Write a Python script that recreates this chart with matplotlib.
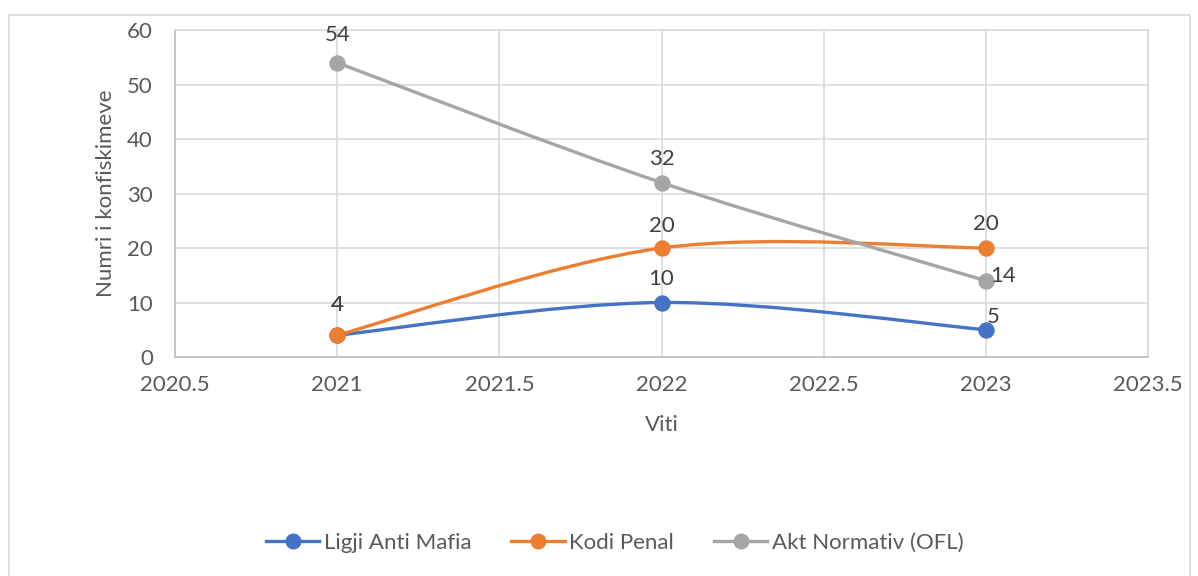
"""Konfiskimet sipas bazës ligjore, 2021–2023 (Excel-style smoothed scatter)."""

import matplotlib.pyplot as plt
from matplotlib.lines import Line2D
from matplotlib.patches import PathPatch, Rectangle
from matplotlib.path import Path

YEARS = [2021, 2022, 2023]
LIGJI_ANTI_MAFIA = [4, 10, 5]
KODI_PENAL = [4, 20, 20]
AKT_NORMATIV = [54, 32, 14]

SERIES_NAMES = ["Ligji Anti Mafia", "Kodi Penal", "Akt Normativ (OFL)"]
SERIES_VALUES = [LIGJI_ANTI_MAFIA, KODI_PENAL, AKT_NORMATIV]
SERIES_COLORS = ["#4472C4", "#ED7D31", "#A5A5A5"]

X_TICKS = [2020.5, 2021, 2021.5, 2022, 2022.5, 2023, 2023.5]
Y_TICKS = [0, 10, 20, 30, 40, 50, 60]

TEXT_COLOR = "#595959"
LABEL_COLOR = "#404040"
GRID_COLOR = "#D9D9D9"
FONT_SIZE = 16

# label offsets in points (dx, dy, ha); default is above the marker
DEFAULT_OFFSET = (0, 17, "center")
LABEL_OFFSETS = {
    (0, 0): (0, 22, "center"),
    (1, 0): (0, 22, "center"),
    (2, 0): (0, 20, "center"),
    (1, 1): (0, 16, "center"),
    (2, 2): (3, 3.5, "left"),
    (0, 2): (5, 9.5, "center"),
}


def smooth_path(xs, ys):
    """Catmull-Rom Bezier path through the points, like Excel smoothing."""
    pts = list(zip(xs, ys))
    verts = [pts[0]]
    codes = [Path.MOVETO]
    for i in range(len(pts) - 1):
        p0 = pts[max(i - 1, 0)]
        p1 = pts[i]
        p2 = pts[i + 1]
        p3 = pts[min(i + 2, len(pts) - 1)]
        c1 = (p1[0] + (p2[0] - p0[0]) / 6, p1[1] + (p2[1] - p0[1]) / 6)
        c2 = (p2[0] - (p3[0] - p1[0]) / 6, p2[1] - (p3[1] - p1[1]) / 6)
        verts += [c1, c2, p2]
        codes += [Path.CURVE4] * 3
    return Path(verts, codes)


def main():
    plt.rcParams["font.family"] = ["Lato", "DejaVu Sans"]
    plt.rcParams["font.size"] = FONT_SIZE

    fig = plt.figure(figsize=(11.98, 5.76), dpi=100)
    ax = fig.add_axes([0.1461, 0.3802, 0.8122, 0.5677])

    # outer chart border
    fig.patches.append(Rectangle((9 / 1198, -0.01), 1181 / 1198, 0.984,
                                 transform=fig.transFigure, fill=False,
                                 edgecolor=GRID_COLOR, linewidth=1.2))

    for s, (name, values, color) in enumerate(zip(SERIES_NAMES, SERIES_VALUES, SERIES_COLORS)):
        ax.add_patch(PathPatch(smooth_path(YEARS, values), facecolor="none",
                               edgecolor=color, linewidth=2.4, zorder=3,
                               capstyle="round"))
        ax.plot(YEARS, values, linestyle="none", marker="o", markersize=10.8,
                color=color, zorder=4)
        for i, (x, y) in enumerate(zip(YEARS, values)):
            dx, dy, ha = LABEL_OFFSETS.get((s, i), DEFAULT_OFFSET)
            ax.annotate(str(y), (x, y), xytext=(dx, dy), textcoords="offset points",
                        ha=ha, va="center", color=LABEL_COLOR, fontsize=FONT_SIZE,
                        zorder=5)

    ax.set_xlim(X_TICKS[0], X_TICKS[-1])
    ax.set_ylim(Y_TICKS[0], Y_TICKS[-1])
    ax.set_xticks(X_TICKS)
    ax.set_xticklabels([f"{t:g}" for t in X_TICKS])
    ax.set_yticks(Y_TICKS)
    ax.grid(True, color=GRID_COLOR, linewidth=1.2, zorder=0)
    ax.set_axisbelow(True)
    ax.tick_params(length=0, colors=TEXT_COLOR, labelsize=FONT_SIZE)
    ax.tick_params(axis="x", pad=13)
    ax.tick_params(axis="y", pad=16)
    for spine in ax.spines.values():
        spine.set_color(GRID_COLOR)
        spine.set_linewidth(1.2)
    ax.spines["left"].set_color("#BFBFBF")
    ax.spines["bottom"].set_color("#BFBFBF")

    ax.set_xlabel("Viti", color=TEXT_COLOR, fontsize=FONT_SIZE, labelpad=14)
    ax.set_ylabel("Numri i konfiskimeve", color=TEXT_COLOR, fontsize=FONT_SIZE,
                  labelpad=8)

    handles = [
        Line2D([], [], color=c, linewidth=2.4, marker="o", markersize=10.5, label=n)
        for n, c in zip(SERIES_NAMES, SERIES_COLORS)
    ]
    leg = fig.legend(handles=handles, loc="center", bbox_to_anchor=(0.513, 0.057),
                     ncol=3, frameon=False, handlelength=2.4, handletextpad=0.2,
                     columnspacing=1.8, fontsize=FONT_SIZE)
    for text in leg.get_texts():
        text.set_color(TEXT_COLOR)

    fig.savefig("out.png", dpi=100)


if __name__ == "__main__":
    main()
